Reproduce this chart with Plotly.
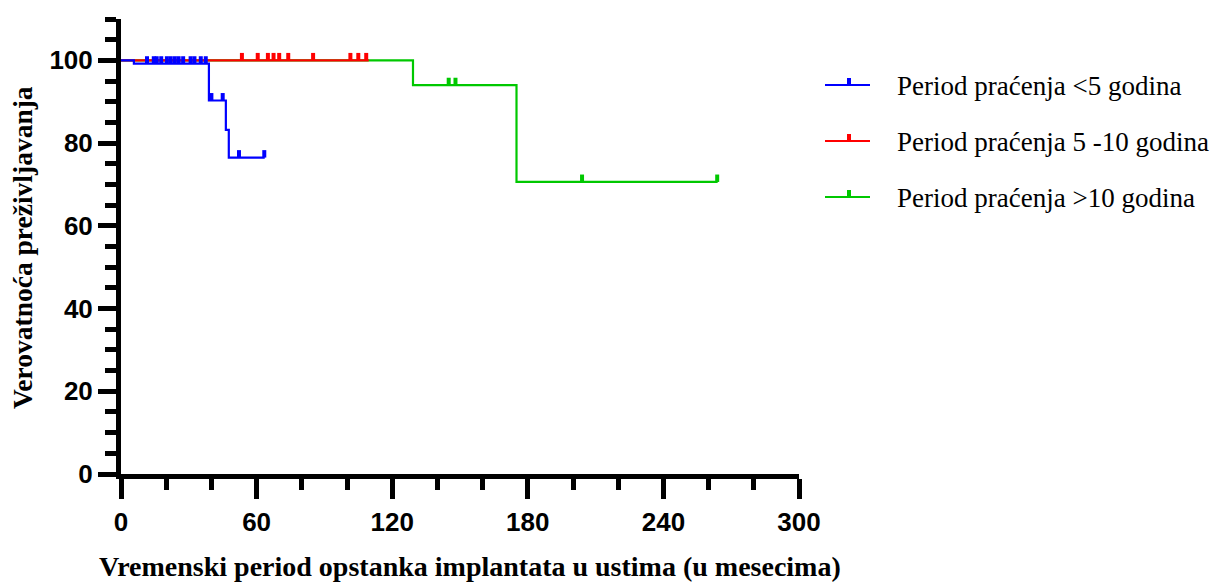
import plotly.graph_objects as go

# ---- data ----
blue_t = [0, 5.7, 38.9, 46.4, 47.7, 63.6]
blue_s = [100, 99.2, 90.3, 83.2, 76.5, 76.5]
blue_cens_t = [11.5, 14.5, 15.8, 17.8, 20.3, 22.0, 23.8, 25.5, 27.5, 30.8, 32.5, 35.3, 37.5,
               40.0, 45.0, 52.2, 63.4]
blue_cens_s = [99.2] * 13 + [90.3, 90.3, 76.5, 76.5]

red_t = [0, 109.6]
red_s = [100, 100]
red_cens_t = [53.5, 60.5, 65.0, 67.5, 70.0, 74.0, 85.0, 101.5, 105.0, 108.5]
red_cens_s = [100] * 10

green_t = [0, 129.2, 175.0, 264.0]
green_s = [100, 94.0, 70.6, 70.6]
green_cens_t = [145.0, 148.0, 204.0, 263.8]
green_cens_s = [94.0, 94.0, 70.6, 70.6]

names = ["Period praćenja <5 godina", "Period praćenja 5 -10 godina", "Period praćenja >10 godina"]
colors = ["#0000FF", "#FF0000", "#00C800"]

x_title = "Vremenski period opstanka implantata u ustima (u mesecima)"
y_title = "Verovatnoća preživljavanja"

fig = go.Figure()

series = [
    (green_t, green_s, green_cens_t, green_cens_s, colors[2]),
    (red_t, red_s, red_cens_t, red_cens_s, colors[1]),
    (blue_t, blue_s, blue_cens_t, blue_cens_s, colors[0]),
]
for t, s, ct, cs, c in series:
    fig.add_trace(go.Scatter(x=t, y=s, mode="lines", line=dict(color=c, width=2.2, shape="hv"),
                             showlegend=False, hoverinfo="skip"))
    fig.add_trace(go.Scatter(x=ct, y=cs, mode="markers", marker=dict(size=1, color=c, opacity=0),
                             error_y=dict(type="data", symmetric=False, array=[1.8] * len(ct),
                                          arrayminus=[0] * len(ct), thickness=4, width=0, color=c),
                             showlegend=False, hoverinfo="skip"))

tickfont = dict(family="Liberation Sans", size=26, color="black", weight="bold")

fig.update_xaxes(range=[0, 300], tick0=0, dtick=60, ticks="outside", ticklen=20, tickwidth=5,
                 tickcolor="black", showline=True, linewidth=5, linecolor="black",
                 showgrid=False, zeroline=False, tickfont=tickfont, ticklabelstandoff=1,
                 minor=dict(dtick=20, tick0=0, ticks="outside", ticklen=11, tickwidth=5,
                            tickcolor="black", showgrid=False))
fig.update_yaxes(range=[0, 110], tick0=0, dtick=20, ticks="outside", ticklen=18, tickwidth=5,
                 tickcolor="black", showline=True, linewidth=5, linecolor="black",
                 showgrid=False, zeroline=False, tickfont=tickfont,
                 minor=dict(dtick=5, tick0=0, ticks="outside", ticklen=11, tickwidth=5,
                            tickcolor="black", showgrid=False))

L, R, T, B = 121, 411, 19, 109
W, H = 1210, 583
pw = W - L - R
ph = H - T - B


def px2paper_x(px):
    return (px - L) / pw


def px2paper_y(py):
    return (H - B - py) / ph


annotations = [
    dict(text=x_title, x=px2paper_x(470), y=px2paper_y(566), xref="paper", yref="paper",
         xanchor="center", yanchor="middle", showarrow=False,
         font=dict(family="Liberation Serif", size=28, color="black", weight="bold")),
    dict(text=y_title, x=px2paper_x(22), y=px2paper_y(248), xref="paper", yref="paper",
         xanchor="center", yanchor="middle", showarrow=False, textangle=-90,
         font=dict(family="Liberation Serif", size=27.5, color="black", weight="bold")),
]
shapes = []
legend_rows = [85, 141, 197]
for name, c, ry in zip(names, colors, legend_rows):
    shapes.append(dict(type="line", xref="paper", yref="paper",
                       x0=px2paper_x(825), x1=px2paper_x(870),
                       y0=px2paper_y(ry), y1=px2paper_y(ry), line=dict(color=c, width=2.2)))
    shapes.append(dict(type="line", xref="paper", yref="paper",
                       x0=px2paper_x(849), x1=px2paper_x(849),
                       y0=px2paper_y(ry), y1=px2paper_y(ry - 7), line=dict(color=c, width=4)))
    annotations.append(dict(text=name, x=px2paper_x(895), y=px2paper_y(ry + 1), xref="paper",
                            yref="paper", xanchor="left", yanchor="middle", showarrow=False,
                            font=dict(family="Liberation Serif", size=27, color="black")))

fig.update_layout(width=W, height=H, margin=dict(l=L, r=R, t=T, b=B),
                  paper_bgcolor="white", plot_bgcolor="white",
                  annotations=annotations, shapes=shapes, showlegend=False)

fig.write_html("out.html")
